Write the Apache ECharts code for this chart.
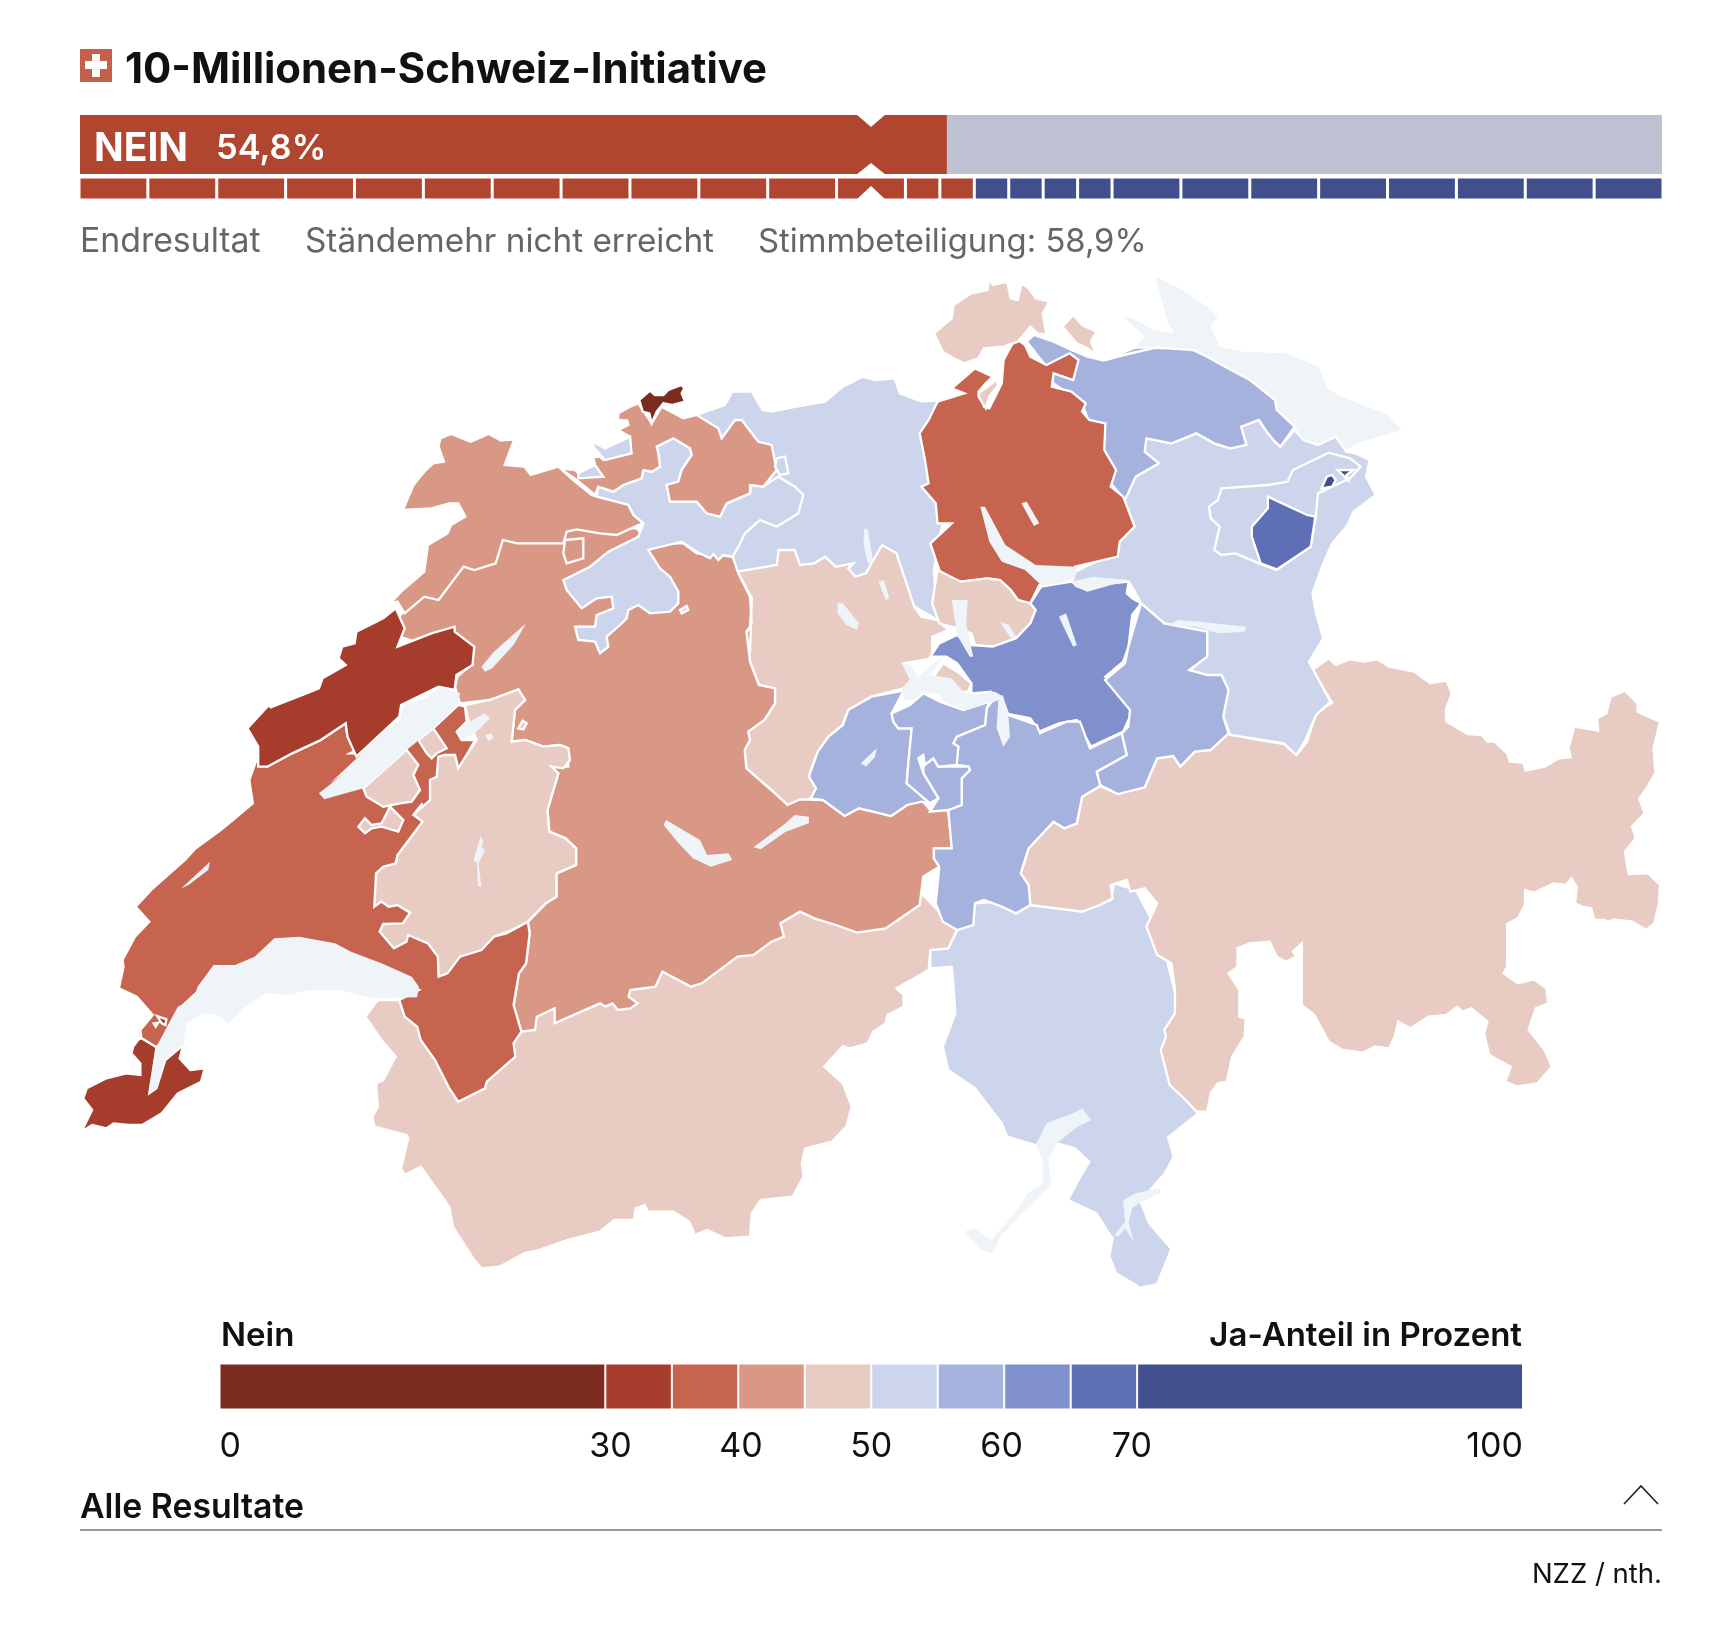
<!DOCTYPE html>
<html><head><meta charset="utf-8">
<script src="https://cdn.jsdelivr.net/npm/echarts@6/dist/echarts.min.js"></script>
<style>html,body{margin:0;padding:0;background:#fff}#c{width:1736px;height:1631px}</style>
</head><body><div id="c"></div>
<script>
// ---- values ----
const resultShares = [54.8, 45.2];            // Nein, rest
const standNein = [1,1,1,1,1,1,1,1,1,1,1,1,0.5,0.5];
const standJa   = [0.5,0.5,0.5,0.5,1,1,1,1,1,1,1,1];
const legendEdges = [0,29.6,34.7,39.8,44.9,50,55.1,60.2,65.3,70.4,100];
const legendTicks = [0,30,40,50,60,70,100];
const binLimits = [30,35,40,45,50,55,60,65,70,100];
const binColors = ['#7b2b1f','#a63d2c','#c66450','#d99786','#e8cbc3','#cdd5ec','#a4b2dd','#7f90cc','#5f6fb5','#414f8c'];
const jaShare = {GR:47,VS:47,TI:53,SG:53,TG:57,BE:43,VD:38,FR:47,LU:47,AG:53,SO:53,BL:43,JU:43,BS:28,NE:33,GE:33,ZH:38,SH:48,ZG:48,SZ:62,GL:58,UR:57,OW:57,NW:58,AR:54,AI:67,AIx:75};

// ---- map outlines: traced rings (frame letter, then x,y within that frame) ----
const frames = {A:[60,270,2.8,3],B:[600,270,2.8,3],C:[1100,270,2.8,3],D:[60,760,2.8,3],E:[600,760,2.8,3],F:[1100,670,2.8,3],G:[550,370,3,3],H:[330,660,3,3],I:[880,630,3,3],O:[0,0,.9032,.9032]};
const cantons = [
 ['TI',["E 925,570 975,565 1000,510 1045,495 1050,430 1110,425 1165,460 1205,435 1350,455 1430,420 1440,370 F 100,660 170,800 230,1050 240,1290 275,1330 O 1055,1027 1060,1045 1052,1060 1030,1085 1038,1105 1058,1128 1045,1160 1030,1163 1008,1150 1002,1135 1005,1118 E 1425,1420 1390,1360 1310,1320 1345,1250 1370,1205 1330,1165 1280,1150 1220,1155 1140,1130 1125,1090 1050,985 975,930 960,860 995,760 990,680 985,620 925,625"]],
 ['GR',["E 1205,435 1200,375 1178,340 1200,265 1270,185 1300,205 1335,190 1350,110 1400,78 1445,100 F 125,352 160,265 205,258 225,290 265,245 310,240 360,190 420,205 515,222 550,255 580,215 605,130 650,98 595,0 C 640,1165 660,1185 700,1168 740,1175 775,1168 810,1190 880,1205 925,1240 970,1232 985,1270 968,1320 970,1355 1030,1392 1070,1395 1085,1415 1105,1415 1140,1450 1148,1475 1185,1478 F 1192,302 1245,290 1285,265 1318,262 1312,235 1328,170 1395,182 1392,145 1418,130 1430,80 1470,62 1505,100 1505,125 1568,155 1550,235 1555,310 1530,355 1510,385 1525,430 1490,470 1500,505 1470,545 1480,612 1535,610 1568,645 1565,700 1552,760 1530,780 1490,755 1440,748 1425,755 1410,750 1385,750 1375,715 1350,710 1330,700 1335,650 1320,625 1305,645 1270,640 1215,668 1190,660 1190,705 1170,745 1140,762 1140,820 1140,890 1130,910 1170,940 1215,928 1250,955 1255,1000 1220,1015 1200,1080 1245,1140 1265,1190 1225,1240 1165,1250 1135,1235 1150,1190 1090,1155 1075,1090 1085,1055 1040,1015 1015,1025 1000,1010 970,1035 920,1040 870,1075 835,1055 825,1100 810,1135 770,1130 735,1148 680,1140 640,1115 600,1035 565,1005 565,930 565,820 540,845 550,860 520,875 495,860 475,815 420,820 385,835 385,890 360,910 390,960 390,1040 408,1045 405,1100 370,1160 355,1235 330,1240 310,1270 300,1325 270,1325 240,1290 195,1245 170,1140 185,1100 180,1080 210,1030 210,960 200,880 160,855 130,770 160,700 125,655 85,665 75,630 30,645 35,685 0,705 E 1350,455"]],
 ['VS',["E 1000,510 975,565 925,570 920,630 880,655 830,685 850,705 850,740 805,765 800,790 765,815 750,850 700,865 680,858 628,920 680,970 705,1040 690,1100 650,1145 575,1165 565,1210 570,1250 540,1310 450,1320 425,1360 420,1430 350,1435 300,1410 265,1425 250,1385 205,1355 135,1355 125,1335 100,1345 95,1380 40,1380 0,1415 D 1420,1440 1340,1470 1300,1480 1230,1520 1180,1525 1160,1500 1100,1400 1090,1340 1010,1220 965,1245 955,1225 975,1135 970,1125 880,1100 875,1070 890,1040 885,970 905,960 940,890 900,840 855,770 890,720 960,720 1100,800 1300,600 E 700,300 900,400"]],
 ['SG',["C 125,520 130,505 200,520 270,490 320,520 365,535 410,525 395,470 445,450 470,490 490,515 505,530 545,480 570,510 610,525 660,500 690,545 715,550 755,570 745,620 772,675 710,725 690,770 650,820 625,880 595,970 605,1030 625,1105 585,1175 645,1295 605,1335 575,1410 550,1455 515,1420 365,1395 345,1340 345,1260 300,1215 250,1200 300,1160 300,1085 180,1060 115,1000 90,950 B 1480,935 1320,945 1330,905 1420,860 1440,700 C 100,620"]],
 ['TG',["B 1195,215 1215,195 1270,215 1320,240 1365,260 1385,265 1410,272 1470,255 1568,230 C 0,270 30,262 100,232 190,235 260,240 300,260 350,290 420,330 490,390 495,420 545,470 505,530 490,515 470,490 445,450 395,470 410,525 365,535 320,520 270,490 200,520 130,505 125,545 165,580 100,620 70,690 B 1430,640 1350,400 1270,340 1250,290"]],
 ['AG',["B 270,435 350,405 370,365 425,365 455,420 480,425 550,410 630,395 680,350 735,320 770,330 825,325 840,370 900,395 950,390 1000,600 950,800 935,900 945,1050 880,1010 500,900 385,905 G 545,560 600,450 G 440,130"]],
 ['LU',["B 385,905 495,885 500,840 545,840 560,885 600,880 630,860 660,890 710,880 695,895 715,920 745,910 760,880 790,825 830,850 880,1010 900,1040 945,1050 975,1080 930,1100 930,1165 850,1180 880,1220 850,1255 760,1280 695,1320 680,1365 640,1400 610,1445 590,1500 E 585,50 605,85 590,115 525,135 490,100 410,25 B 405,1440 415,1385 460,1350 490,1300 490,1255 445,1245 420,1175 410,1085 420,1070 425,985"],"B 960,1180 1000,1205 1040,1240 1030,1265 950,1270 925,1235"],
 ['BE',["G 548,560 565,610 600,680 605,760 590,790 600,850 B 425,985 420,1070 410,1085 420,1175 445,1245 490,1255 490,1300 460,1350 415,1385 420,1410 405,1440 E 410,25 490,100 525,135 560,118 625,120 685,168 725,145 765,155 815,168 860,135 900,120 925,150 975,150 985,265 935,265 935,295 950,320 905,350 895,435 800,505 720,518 660,495 600,475 560,455 505,490 515,530 480,545 430,585 385,590 285,670 255,680 175,635 155,680 85,690 80,710 105,730 85,745 50,750 35,730 15,740 0,730 D 1385,790 1385,745 1335,770 1330,810 1292,815 1270,740 1285,640 1305,610 1315,520 1310,485 1360,430 1390,410 1390,340 1445,315 1445,265 1415,235 1370,215 1365,150 1395,40 H 660,320 715,320 715,265 690,255 640,260 585,240 545,245 555,150 585,120 565,88 480,120 390,130 375,80 385,40 430,10 A 1100,1230 1040,1130 950,1100 950,1040 980,1000 1200,800 1300,790 G 150,470 260,475 300,520 400,520 440,550"]],
 ['VD',["D 260,765 215,710 165,685 178,620 175,600 210,530 250,485 212,440 260,385 350,300 380,265 450,210 490,175 540,130 530,60 550,0 A 580,1490 650,1450 730,1410 800,1360 805,1400 830,1450 H 60,280 230,190 310,205 385,135 405,140 410,185 380,215 395,240 435,240 410,285 385,325 345,400 300,560 D 1100,560 1250,520 1310,485 1315,520 1305,610 1285,640 1270,735 1292,815 1270,850 1275,890 1195,965 1190,985 1115,1025 1090,985 1050,900 1010,840 1000,800 965,770 950,720 1005,690 900,650 650,560 400,680 340,740 300,830 270,862 228,835 225,810"]],
 ['FR',["H 405,135 480,120 565,88 585,120 555,150 545,245 585,240 640,260 690,255 715,265 720,300 700,325 665,320 685,340 D 1365,150 1370,215 1415,235 1445,265 1445,315 1390,340 1390,410 1360,430 1310,485 1265,510 1215,530 1180,570 1120,590 1085,640 1060,650 1058,590 1030,550 975,525 970,545 935,565 895,515 905,492 960,490 980,458 945,435 920,440 900,425 880,440 885,340 905,320 940,310 945,285 1015,185 990,165 1015,130 H 250,465 300,420 300,360 320,350 325,290 345,285 375,285 385,325 410,285 440,240 415,180"],
   "H 100,385 230,270 265,315 250,345 270,390 245,425 210,430 160,440 110,410","H 265,240 310,205 350,265 320,280 305,295 290,280","H 180,440 220,480 205,515 155,500 125,505 105,520 85,500 105,475 125,495 155,490","H 578,182 590,190 580,208 565,205"],
 ['SO',["G 320,230 370,205 420,235 425,255 395,300 385,335 350,345 360,395 440,395 470,430 510,440 530,400 600,370 605,345 640,350 685,320 735,350 760,375 745,430 680,470 630,450 585,490 565,530 548,560 520,555 505,570 490,552 480,565 440,545 395,515 295,540 330,595 360,620 385,665 385,700 360,725 300,730 265,705 235,720 230,745 210,765 170,800 175,830 150,850 135,815 85,810 75,770 135,770 140,735 190,715 185,680 140,685 95,715 50,660 40,630 120,590 175,545 265,500 280,460 250,435 235,405 140,380 145,350 190,365 220,345 275,325 280,300 305,305 330,290 325,250"]],
 ['BL',["G 205,130 240,110 265,100 305,160 335,110 400,145 440,135 505,175 515,205 555,150 575,150 625,215 665,225 680,300 640,350 600,345 600,370 530,400 510,440 470,430 440,395 360,395 350,345 385,335 395,300 425,255 420,235 370,205 320,230 325,250 330,290 305,305 280,300 275,325 220,345 190,365 145,350 135,375 80,330 30,295 75,300 85,310 135,285 130,262 150,260 160,270 240,250 240,200 205,180 235,165 232,152 205,150"]],
 ['SOx',["G 85,310 135,285 160,320 85,325"],"G 130,215 165,235 240,200 245,250 165,270 130,230","G 390,720 410,708 415,720 395,730","G 680,265 705,260 715,310 690,315 675,290"],
 ['BS',["G 268,90 300,62 315,75 340,75 355,60 395,45 403,55 395,70 405,95 365,105 340,100 320,125 305,160 298,130 278,125"]],
 ['JU',["A 1065,505 1095,492 1150,515 1200,492 1235,512 1272,508 1245,585 1300,590 1318,615 1395,590 G 75,335 125,375 140,380 235,405 250,435 280,460 265,465 200,495 150,490 80,478 50,485 40,520 0,520 A 1280,820 1240,810 1220,880 1160,900 1130,890 1060,990 1020,980 965,1030 945,995 925,1000 955,965 1020,905 1030,825 1085,790 1095,765 1135,740 1115,700 1090,700 1040,715 960,720 990,645 1020,605 1045,580 1075,575 1060,530"],"G 45,510 100,505 100,565 50,580 40,550"],
 ['NE',["A 525,1375 585,1305 590,1312 690,1270 725,1255 735,1225 800,1185 780,1165 790,1130 825,1120 830,1085 905,1045 940,1015 965,1075 945,1130 1040,1090 1105,1070 1105,1085 1160,1130 1155,1185 1110,1215 1105,1260 1060,1250 955,1305 950,1340 830,1460 805,1400 800,1360 730,1410 650,1450 580,1490 555,1490 555,1430"]],
 ['GE',["D 220,838 228,835 270,862 265,900 250,1000 270,985 295,900 345,855 335,895 365,930 405,925 395,965 330,1000 285,1060 230,1095 190,1095 150,1090 130,1105 90,1095 60,1115 90,1050 65,1015 75,985 130,955 185,940 225,945 225,910 200,880 205,860"],"D 272,768 298,778 295,795 285,790","D 262,790 275,788 268,800"],
 ['ZH',["B 945,395 1020,370 985,355 1050,295 1100,320 1080,340 1060,365 1075,410 1090,415 1125,340 1130,270 1150,230 1165,205 1190,225 1205,260 1250,285 1315,250 1340,270 1325,330 1270,310 1265,350 1320,365 1360,400 1350,425 1370,450 1415,460 1412,540 1445,600 1430,650 1465,680 1497,770 1455,815 1450,860 1330,890 1330,910 1230,945 1205,1000 1170,990 1150,960 1120,930 1085,925 1010,935 955,915 925,820 985,760 945,760 940,700 900,650 920,640 910,570 895,490 920,450"]],
 ['SH',["B 1090,25 1100,45 1140,35 1150,85 1170,90 1180,40 1200,55 1220,85 1258,95 1240,130 1250,195 1225,190 1205,170 1190,190 1170,215 1130,230 1075,235 1060,265 1020,280 990,265 960,245 935,190 985,145 990,105 1040,70 1085,60"],"B 1295,170 1325,135 1350,165 1390,185 1375,215 1390,255 1365,235 1335,220 1315,195","B 1060,370 1110,330 1115,345 1090,380 1080,415 1060,380"],
 ['ZG',["B 945,900 1010,935 1085,925 1120,930 1150,960 1170,990 1205,1000 1220,1020 1205,1060 1165,1105 1100,1130 1050,1125 1040,1090 1000,1075 950,1060 930,1000"]],
 ['SZ',["B 1235,950 1320,935 1345,950 1480,935 1475,970 1490,985 1515,1000 1490,1035 1480,1130 1465,1175 1415,1220 1445,1265 1490,1325 1465,1385 1375,1430 1350,1385 1335,1350 1285,1360 1230,1385 1205,1345 1135,1330 1115,1285 1095,1265 1040,1270 1040,1240 1000,1180 970,1160 925,1160 950,1120 1000,1095 1030,1125 1100,1130 1165,1105 1205,1060 1220,1020 1205,1000"]],
 ['GL',["C 115,1000 180,1060 300,1085 300,1160 250,1200 300,1215 340,1215 360,1260 345,1340 360,1390 F 310,240 265,245 225,290 205,258 160,265 125,352 50,372 I 660,465 650,425 740,375 725,310 745,290 750,240 675,150 735,100 745,50 760,0"]],
 ['UR',["I 660,465 650,425 740,375 725,310 630,355 600,275 560,275 480,310 470,285 385,255 365,200 335,215 320,235 315,285 230,320 220,340 235,350 230,405 265,410 270,420 245,445 245,525 205,540 E 975,150 985,265 935,265 935,295 950,320 940,430 960,485 1000,510 1045,495 1050,430 1075,420 1125,440 1165,460 1205,435 1200,375 1178,340 1200,265 1270,185 1300,205 1335,190 1350,110 1400,78"]],
 ['OW',["B 695,1320 760,1280 850,1262 I 35,250 40,275 55,295 95,295 85,400 80,460 150,520 125,515 E 860,135 815,168 765,155 725,145 685,168 625,120 590,115 605,85 585,50 B 610,1445 640,1400 680,1365"],"I 130,405 160,385 175,410 265,410 270,420 245,445 245,525 205,540 150,545 175,505 130,430"],
 ['NW',["I 35,250 90,225 130,190 180,215 250,240 330,215 320,235 315,285 230,320 220,340 235,350 230,405 175,410 160,385 135,405 130,375 115,385 130,430 175,505 150,520 80,460 85,400 95,295 55,295 40,275"]],
 ['AR',["C 340,655 470,645 525,635 540,600 640,548 700,565 730,590 700,625 650,650 610,670 605,735 590,830 495,900 445,880 380,850 340,855 320,840 335,770 310,745 305,710 330,690"]],
 ['AI',["C 470,680 530,710 580,735 603,740 590,830 495,898 450,880 425,800 425,770 470,715"]],
 ['AIx',["C 620,655 635,620 650,615 660,630 650,650"],"C 665,600 710,600 690,615 695,630 680,615"]
];
const lakes = [
 ['Bodensee',"C 155,20 230,60 300,110 330,140 310,170 335,230 400,245 520,250 610,290 640,360 720,400 800,430 845,480 780,500 720,520 690,540 660,500 610,525 570,510 545,470 495,420 490,390 420,330 350,290 300,260 260,240 190,235 100,232 125,200 65,140 90,145 150,180 210,190 190,160",true],
 ['Genfersee',"D 250,1000 270,985 295,900 320,870 345,855 355,790 400,760 440,765 470,790 520,740 575,700 640,705 700,690 780,690 880,715 1000,712 1005,680 985,650 900,610 815,575 770,550 670,530 600,535 545,590 490,615 430,615 385,680 375,715 330,740 305,790 270,860 262,900"],
 ['Neuenburgersee',"D 725,100 740,118 850,85 H 230,270 310,205 385,130 390,100 330,80 290,115 220,135 210,180 130,240 85,290 0,370 D 790,45"],
 ['Bielersee',"A 1180,1190 1215,1145 1305,1060 1270,1125 1210,1195 1190,1205"],
 ['Murtensee',"H 385,215 410,190 465,160 480,175 440,215 400,238"],
 ['Schiffenensee',"H 465,225 485,220 490,235 475,243"],
 ['Joux',"D 340,385 420,305 415,330 360,375"],
 ['Gruyere',"D 1178,228 1185,245 1180,260 1190,270 1172,310 1180,380 1170,378 1168,310 1158,300"],
 ['Thunersee',"E 178,195 185,180 280,240 300,285 360,280 370,300 310,320 260,295 220,250"],
 ['Brienzersee',"E 430,262 520,190 545,165 585,170 585,190 520,215 450,268"],
 ['Sempachersee',"B 665,1000 680,1000 725,1060 720,1080 690,1065 665,1030"],
 ['Baldeggersee',"B 780,935 795,930 810,985 800,990"],
 ['Hallwilersee',"B 740,775 750,780 765,875 750,880 738,820"],
 ['Zuerichsee',"B 1065,710 1078,710 1135,825 1220,885 1335,890 1330,920 1290,940 1235,945 1190,900 1125,875 1090,815"],
 ['Obersee',"B 1320,935 1380,920 1480,930 1365,965 1330,950"],
 ['Greifensee',"B 1180,700 1195,695 1230,760 1215,768"],
 ['Zugersee',"B 985,990 1030,990 1025,1060 1045,1160 1035,1160 1000,1095 995,1060"],
 ['Aegerisee',"B 1120,1055 1145,1065 1165,1100 1150,1105"],
 ['Sihlsee',"B 1285,1040 1305,1030 1335,1125 1325,1130 1300,1075"],
 ['Vierwaldstaettersee',"I 65,100 90,105 115,140 160,100 190,80 150,135 215,145 250,185 290,195 345,185 370,200 385,255 390,320 370,350 350,295 355,210 330,215 260,240 190,215 180,195 130,185 100,210 75,210 65,180 90,150"],
 ['Sarnersee',"B 730,1480 775,1435 770,1460 745,1490"],
 ['Walensee',"C 220,1050 280,1055 410,1070 405,1085 330,1090 270,1070 190,1065"],
 ['LagoMaggiore',"E 1020,1415 1050,1405 1095,1440 1150,1375 1200,1300 1240,1270 1240,1200 1220,1155 1250,1090 1325,1060 1350,1045 1375,1080 1330,1105 1280,1150 1255,1200 1265,1275 1190,1350 1120,1430 1100,1480 1070,1470"],
 ['LagoLugano',"E 1440,1425 1470,1385 1465,1320 1500,1300 1568,1285 1568,1300 1510,1330 1490,1345 1480,1385 1495,1445 1470,1405 1450,1430"]
];

function parseRing(s){
  let f=null; const pts=[];
  s.trim().split(/\s+/).forEach(t=>{
    if(frames[t]){f=frames[t];return;}
    const [a,b]=t.split(',').map(Number);
    pts.push([f[0]+a/f[2],f[1]+b/f[3]]);
  });
  pts.push(pts[0].slice());
  return pts;
}
function cantonRings(c){
  const rings=[parseRing(c[1][0])];
  for(let i=2;i<c.length;i++) rings.push(parseRing(c[i]));
  return rings;
}
function colorFor(v){ for(let i=0;i<binLimits.length;i++){ if(v<binLimits[i]) return binColors[i]; } return binColors[binColors.length-1]; }
const features=[];
lakes.filter(l=>l[2]).forEach(l=>features.push({type:'Feature',properties:{name:l[0]},geometry:{type:'Polygon',coordinates:[parseRing(l[1])]}}));
cantons.forEach(c=>{features.push({type:'Feature',properties:{name:c[0]},geometry:{type:'MultiPolygon',coordinates:cantonRings(c).map(r=>[r])}});});
lakes.filter(l=>!l[2]).forEach(l=>features.push({type:'Feature',properties:{name:l[0]},geometry:{type:'Polygon',coordinates:[parseRing(l[1])]}}));
echarts.registerMap('CH',{type:'FeatureCollection',features});

const mapData=cantons.map(c=>{
  const key=c[0]==='SOx'?'SO':c[0];
  return {name:c[0],value:jaShare[key],itemStyle:{areaColor:colorFor(jaShare[key])}};
}).concat(lakes.map(l=>({name:l[0],itemStyle:{areaColor:'#eff4f9',borderWidth:0}})));

const RED='#b04530',GREY='#bdc1d1',BLUE='#414f8c';
const W=1736,H=1631;
const barSeries=[
 {type:'bar',xAxisIndex:0,yAxisIndex:0,stack:'r',data:[resultShares[0]],itemStyle:{color:RED},barWidth:'100%',silent:true},
 {type:'bar',xAxisIndex:0,yAxisIndex:0,stack:'r',data:[resultShares[1]],itemStyle:{color:GREY},barWidth:'100%',silent:true}
];
standNein.forEach(v=>barSeries.push({type:'bar',xAxisIndex:1,yAxisIndex:1,stack:'s',data:[v],barWidth:'100%',silent:true,itemStyle:{color:RED,borderColor:'#fff',borderWidth:1.5}}));
standJa.forEach(v=>barSeries.push({type:'bar',xAxisIndex:1,yAxisIndex:1,stack:'s',data:[v],barWidth:'100%',silent:true,itemStyle:{color:BLUE,borderColor:'#fff',borderWidth:1.5}}));
binColors.forEach((col,i)=>barSeries.push({type:'bar',xAxisIndex:2,yAxisIndex:2,stack:'l',data:[legendEdges[i+1]-legendEdges[i]],barWidth:'100%',silent:true,itemStyle:{color:col,borderColor:'#fff',borderWidth:1}}));

const chart=echarts.init(document.getElementById('c'),null,{renderer:'canvas',width:W,height:H});
const FONT='Inter, "Noto Sans", sans-serif';
function txt(x,y,t,size,weight,color,align,extra){
  return {type:'text',x,y,z:100,silent:true,style:Object.assign({text:t,fontFamily:FONT,fontSize:size,fontWeight:weight,fill:color,textAlign:align||'left',textVerticalAlign:'middle'},extra||{})};
}
chart.setOption({
  animation:false,
  backgroundColor:'#fff',
  grid:[
    {left:80,top:115,width:1582,height:59,containLabel:false},
    {left:79,top:177,width:1584,height:23},
    {left:219.5,top:1363.5,width:1303.5,height:46}
  ],
  xAxis:[
    {gridIndex:0,type:'value',min:0,max:100,show:false},
    {gridIndex:1,type:'value',min:0,max:23,show:false},
    {gridIndex:2,type:'value',min:0,max:100,axisLine:{show:false},axisTick:{show:false},splitLine:{show:false},
     axisLabel:{customValues:legendTicks,margin:20,color:'#111',fontFamily:FONT,fontSize:34,alignMinLabel:'left',alignMaxLabel:'right'}}
  ],
  yAxis:[0,1,2].map(i=>({gridIndex:i,type:'category',data:['x'],show:false})),
  series:barSeries.concat([{
    type:'map',map:'CH',silent:true,showLegendSymbol:false,roam:false,
    projection:{project:p=>[p[0],p[1]],unproject:p=>[p[0],p[1]]},
    boundingCoords:[[0,0],[W,H]],left:0,top:0,width:W,height:H,
    itemStyle:{areaColor:'#eee',borderColor:'#fff',borderWidth:2.3},
    label:{show:false},emphasis:{disabled:true},select:{disabled:true},
    data:mapData
  }])
});
const xMid=chart.convertToPixel({xAxisIndex:0},50);
const shape=(s)=>Object.assign({z:100,silent:true},s);
chart.setOption({graphic:{elements:[
  shape({type:'rect',shape:{x:80,y:49,width:32,height:33},style:{fill:'#c45f49'}}),
  shape({type:'rect',shape:{x:92,y:54,width:8,height:23},style:{fill:'#fff'}}),
  shape({type:'rect',shape:{x:85,y:61,width:22,height:8},style:{fill:'#fff'}}),
  txt(125,70,'10-Millionen-Schweiz-Initiative',41.9,700,'#111'),
  txt(94,149,'NEIN',39,700,'#fff'),
  txt(216,149,'54,8%',34.5,600,'#fff'),
  txt(80,242,'Endresultat',33.8,400,'#666'),
  txt(305,242,'Ständemehr nicht erreicht',33.3,400,'#666'),
  txt(758,242,'Stimmbeteiligung: 58,9%',32.8,400,'#666'),
  shape({type:'polygon',shape:{points:[[xMid-15,114],[xMid+15,114],[xMid,127]]},style:{fill:'#fff'}}),
  shape({type:'polygon',shape:{points:[[xMid-15,175],[xMid+15,175],[xMid,163]]},style:{fill:'#fff'}}),
  shape({type:'polygon',shape:{points:[[xMid-15,200],[xMid+15,200],[xMid,186]]},style:{fill:'#fff'}}),
  txt(221,1336,'Nein',33,600,'#111'),
  txt(1522,1336,'Ja-Anteil in Prozent',33,600,'#111','right'),
  txt(80,1508,'Alle Resultate',33.8,600,'#111'),
  shape({type:'line',shape:{x1:80,y1:1530,x2:1662,y2:1530},style:{stroke:'#999',lineWidth:2}}),
  shape({type:'polyline',shape:{points:[[1624,1504],[1641,1486],[1658,1504]]},style:{stroke:'#222',lineWidth:1.6,fill:null}}),
  txt(1662,1575,'NZZ / nth.',27.5,400,'#111','right')
]}});
</script></body></html>
